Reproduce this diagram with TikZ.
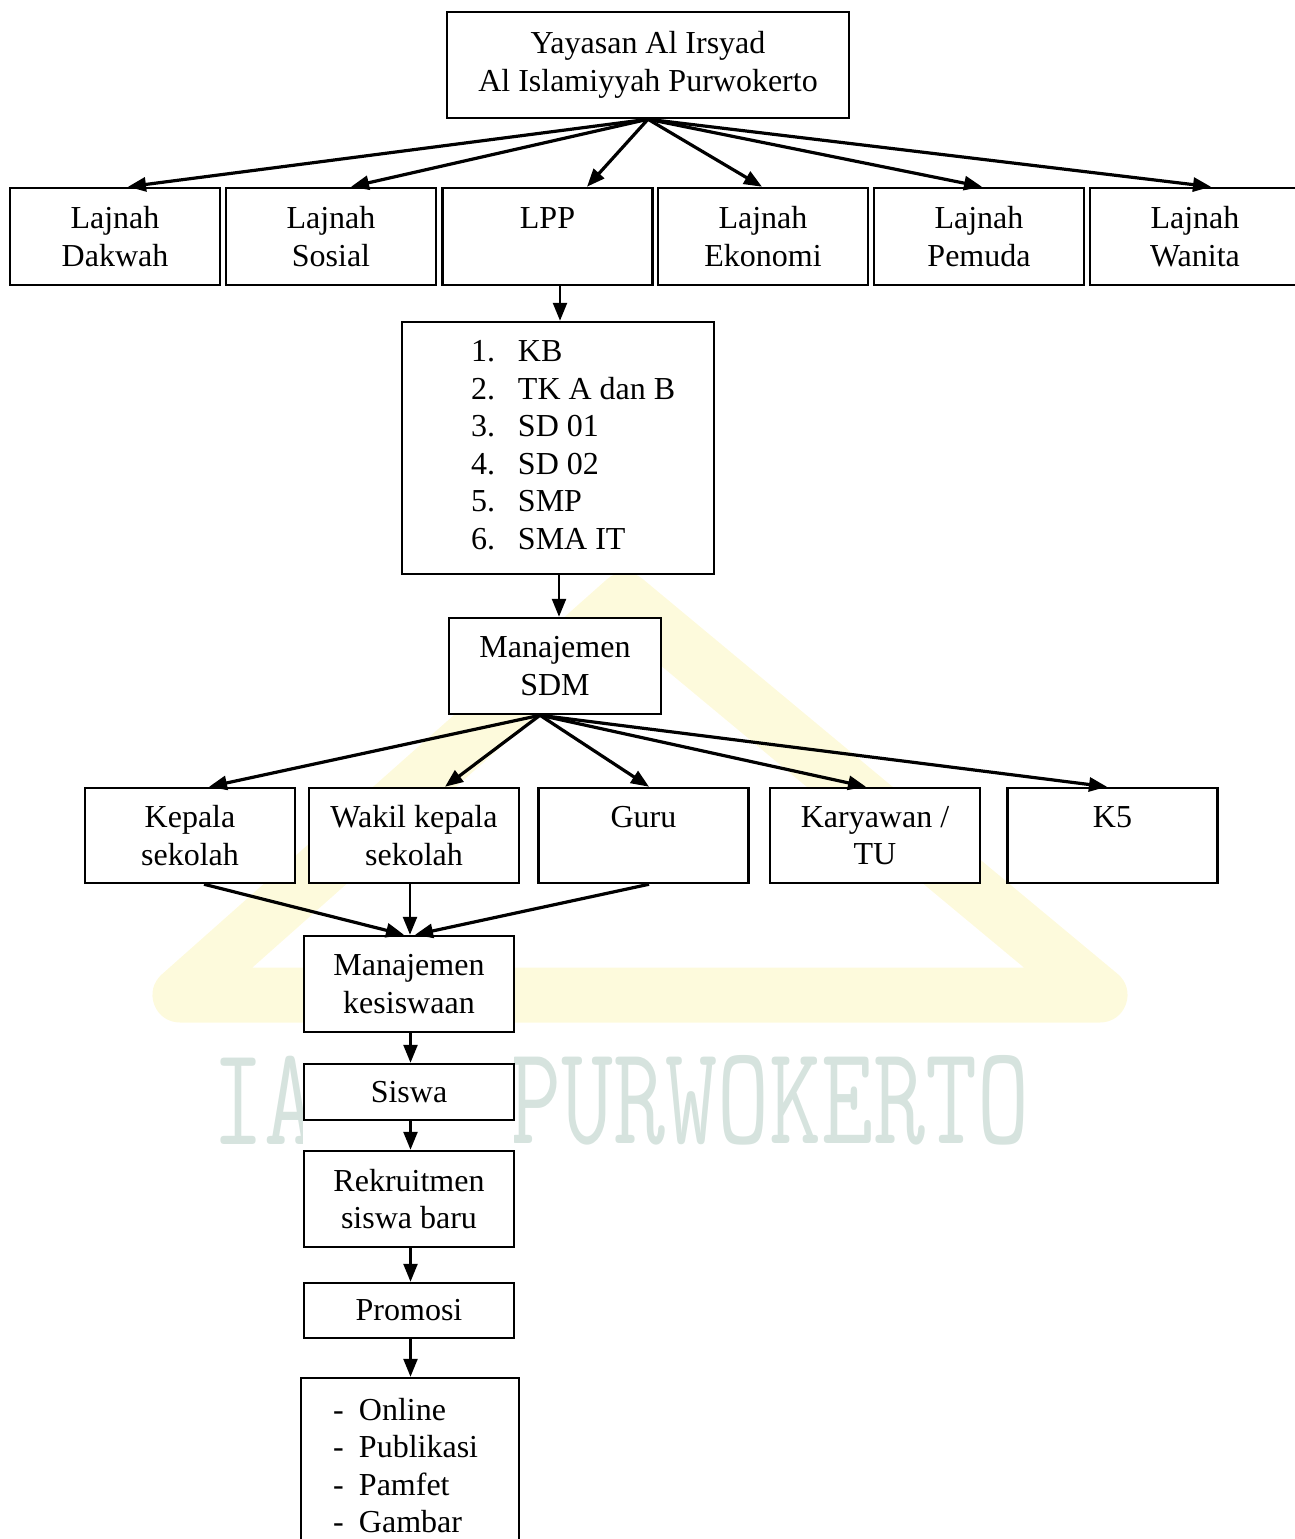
\documentclass[tikz,border=0pt]{standalone}
\usepackage{fontspec}
\setmainfont{Liberation Serif}
\usepackage{graphicx}
\usetikzlibrary{arrows.meta}
\definecolor{wmyellow}{RGB}{250,238,140}
\definecolor{wmgray}{RGB}{214,227,222}
\tikzset{
  box/.style={draw, line width=2.5pt, fill=white, inner sep=0pt, align=center,
    font=\fontsize{32}{37.5}\selectfont},
  listbox/.style={draw, line width=2.5pt, fill=white, inner sep=0pt,
    font=\fontsize{32}{37.5}\selectfont},
  rowone/.style={box, minimum width=210pt, minimum height=97pt},
  rowtwo/.style={box, minimum width=210pt, minimum height=95pt},
  colbox/.style={box, minimum width=210pt},
  arr/.style={line width=2.5pt, -{Triangle[length=18pt,width=14pt]}},
  fan/.style={arr, line width=3.2pt},
  wmtext/.style={text=wmgray, font=\ttfamily\addfontfeatures{FakeBold=3}\fontsize{101}{101}\selectfont, inner sep=0pt}
}
\begin{document}
\begin{tikzpicture}[x=1pt,y=-1pt]
\useasboundingbox (0,0) rectangle (1295,1539);
\clip (0,0) rectangle (1295,1539);
% watermark
\draw[wmyellow, line width=55pt, line join=round, opacity=0.3] (625,600) -- (180,995) -- (1100,995) -- cycle;
\node[wmtext, anchor=west] (wma) at (212,1100) {\scalebox{1}[1.4]{IA}};
\node[wmtext, anchor=east] (wmb) at (1030,1100) {\scalebox{1}[1.4]{PURWOKERTO}};
\fill[white] (303,1045) rectangle (514,1150);
% top
\node[box, minimum width=402pt, minimum height=106pt] (top) at (648,65) {Yayasan Al Irsyad\\Al Islamiyyah Purwokerto};
% row one
\node[rowone] (d1) at (115,236.5) {Lajnah\\Dakwah};
\node[rowone] (d2) at (331,236.5) {Lajnah\\Sosial};
\node[rowone] (d3) at (547.5,236.5) {LPP\\\mbox{}};
\node[rowone] (d4) at (763,236.5) {Lajnah\\Ekonomi};
\node[rowone] (d5) at (979,236.5) {Lajnah\\Pemuda};
\node[rowone] (d6) at (1195,236.5) {Lajnah\\Wanita};
% list of schools
\node[listbox, minimum width=312pt, minimum height=252pt] (list) at (558,448)
  {\begin{tabular}{@{\hspace{69pt}}p{47pt}@{}p{196pt}@{}}
   1. & KB\\ 2. & TK A dan B\\ 3. & SD 01\\ 4. & SD 02\\ 5. & SMP\\ 6. & SMA IT
   \end{tabular}};
% SDM
\node[box, minimum width=212pt, minimum height=96pt] (sdm) at (555,666) {Manajemen\\SDM};
% row two
\node[rowtwo] (k1) at (190,835.5) {Kepala\\sekolah};
\node[rowtwo] (k2) at (414,835.5) {Wakil kepala\\sekolah};
\node[rowtwo] (k3) at (643.5,835.5) {Guru\\\mbox{}};
\node[rowtwo] (k4) at (875,835.5) {Karyawan /\\TU};
\node[rowtwo] (k5) at (1112.5,835.5) {K5\\\mbox{}};
% column
\node[colbox, minimum height=96pt] (kes) at (409,984) {Manajemen\\kesiswaan};
\node[colbox, minimum height=56pt] (siswa) at (409,1092) {Siswa};
\node[colbox, minimum height=96pt] (rek) at (409,1199) {Rekruitmen\\siswa baru};
\node[colbox, minimum height=55pt] (promo) at (409,1310.5) {Promosi};
\node[listbox, minimum width=218pt, minimum height=182pt] (media) at (410,1469)
  {\begin{tabular}{@{\hspace{32pt}}p{26pt}@{}p{160pt}@{}}
   - & Online\\ - & Publikasi\\ - & Pamfet\\ - & Gambar
   \end{tabular}};
% connectors top
\draw[fan] (top.south) -- ([xshift=13pt]d1.north);
\draw[fan] (top.south) -- ([xshift=20pt]d2.north);
\draw[fan] (top.south) -- ([xshift=39.5pt]d3.north);
\draw[fan] (top.south) -- ([xshift=-1pt]d4.north);
\draw[fan] (top.south) -- ([xshift=3pt]d5.north);
\draw[fan] (top.south) -- ([xshift=16pt]d6.north);
\draw[arr] ([xshift=12.5pt]d3.south) -- ([xshift=2pt]list.north);
\draw[arr] ([xshift=1pt]list.south) -- ([xshift=4pt]sdm.north);
% connectors SDM
\draw[fan] ([xshift=-15pt]sdm.south) -- ([xshift=19pt]k1.north);
\draw[fan] ([xshift=-15pt]sdm.south) -- ([xshift=31pt]k2.north);
\draw[fan] ([xshift=-15pt]sdm.south) -- ([xshift=5.5pt]k3.north);
\draw[fan] ([xshift=-15pt]sdm.south) -- ([xshift=-9pt]k4.north);
\draw[fan] ([xshift=-15pt]sdm.south) -- ([xshift=-5.5pt]k5.north);
% to kesiswaan
\draw[fan] ([xshift=14pt]k1.south) -- ([xshift=-5pt]kes.north);
\draw[arr] ([xshift=-4pt]k2.south) -- ([xshift=1pt]kes.north);
\draw[fan] ([xshift=5.5pt]k3.south) -- ([xshift=6pt]kes.north);
% column arrows
\draw[arr] ([xshift=1.5pt]kes.south) -- ([xshift=1.5pt]siswa.north);
\draw[arr] ([xshift=1.5pt]siswa.south) -- ([xshift=1.5pt]rek.north);
\draw[arr] ([xshift=1.5pt]rek.south) -- ([xshift=1.5pt]promo.north);
\draw[arr] ([xshift=1.5pt]promo.south) -- ([xshift=0.5pt]media.north);
\end{tikzpicture}
\end{document}
